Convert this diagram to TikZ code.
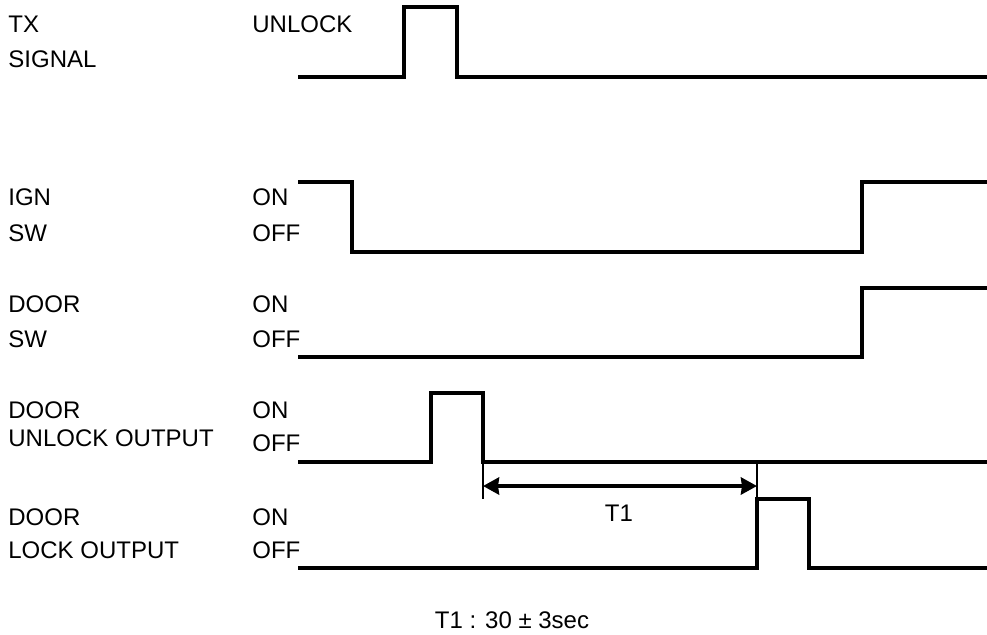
\documentclass[tikz,border=0pt]{standalone}
\usepackage{fontspec}
\setmainfont{Liberation Sans}
\usetikzlibrary{arrows.meta, positioning}

\begin{document}
\begin{tikzpicture}[x=0.5pt, y=-0.5pt,
      lbl/.style={anchor=west, inner sep=0pt, font=\fontsize{12}{14}\selectfont},
      wave/.style={line width=2pt, line join=miter},
      tick/.style={line width=1pt},
      dim/.style={{Stealth[length=8pt, width=8.5pt, inset=0.5pt]}-{Stealth[length=8pt, width=8.5pt, inset=0.5pt]}, line width=2pt}
    ]
    \useasboundingbox (0,0) rectangle (987,634);

    % signal names
    \node[lbl] (tx)     at (8, 24)  {TX};
    \node[lbl] (sig)    at (8, 59)  {SIGNAL};
    \node[lbl] (ign)    at (8, 197) {IGN};
    \node[lbl] (ignsw)  at (8, 233) {SW};
    \node[lbl] (door)   at (8, 304) {DOOR};
    \node[lbl] (doorsw) at (8, 339) {SW};
    \node[lbl] (udoor)  at (8, 410) {DOOR};
    \node[lbl] (uout)   at (8, 438) {UNLOCK OUTPUT};
    \node[lbl] (ldoor)  at (8, 517) {DOOR};
    \node[lbl] (lout)   at (8, 550) {LOCK OUTPUT};

    % levels
    \node[lbl] (unlock) at (252, 24)  {UNLOCK};
    \node[lbl] (ignon)  at (252, 197) {ON};
    \node[lbl] (ignoff) at (252, 233) {OFF};
    \node[lbl] (dswon)  at (252, 304) {ON};
    \node[lbl] (dswoff) at (252, 339) {OFF};
    \node[lbl] (uon)    at (252, 410) {ON};
    \node[lbl] (uoff)   at (252, 443) {OFF};
    \node[lbl] (lon)    at (252, 517) {ON};
    \node[lbl] (loff)   at (252, 550) {OFF};

    % waveforms
    \draw[wave] (298,77) -- (404,77) -- (404,7) -- (457,7) -- (457,77) -- (987,77);
    \draw[wave] (298,182) -- (352,182) -- (352,252) -- (862,252) -- (862,182) -- (987,182);
    \draw[wave] (298,357) -- (862,357) -- (862,288) -- (987,288);
    \draw[wave] (298,462) -- (431,462) -- (431,393) -- (483,393) -- (483,462) -- (987,462);
    \draw[wave] (298,568) -- (757,568) -- (757,499) -- (809,499) -- (809,568) -- (987,568);

    % T1
    \coordinate (ufall) at (483,486);
    \coordinate (lrise) at (757,486);
    \draw[tick] (483,462) -- (483,499);
    \draw[tick] (757,462) -- (757,499);
    \draw[dim] (ufall) -- (lrise);
    \node[lbl, anchor=center] (t1)   at (619,513) {T1};
    \node[lbl, anchor=center] (note) at (512,620) {T1 : 30 ± 3sec};
  \end{tikzpicture}
\end{document}
